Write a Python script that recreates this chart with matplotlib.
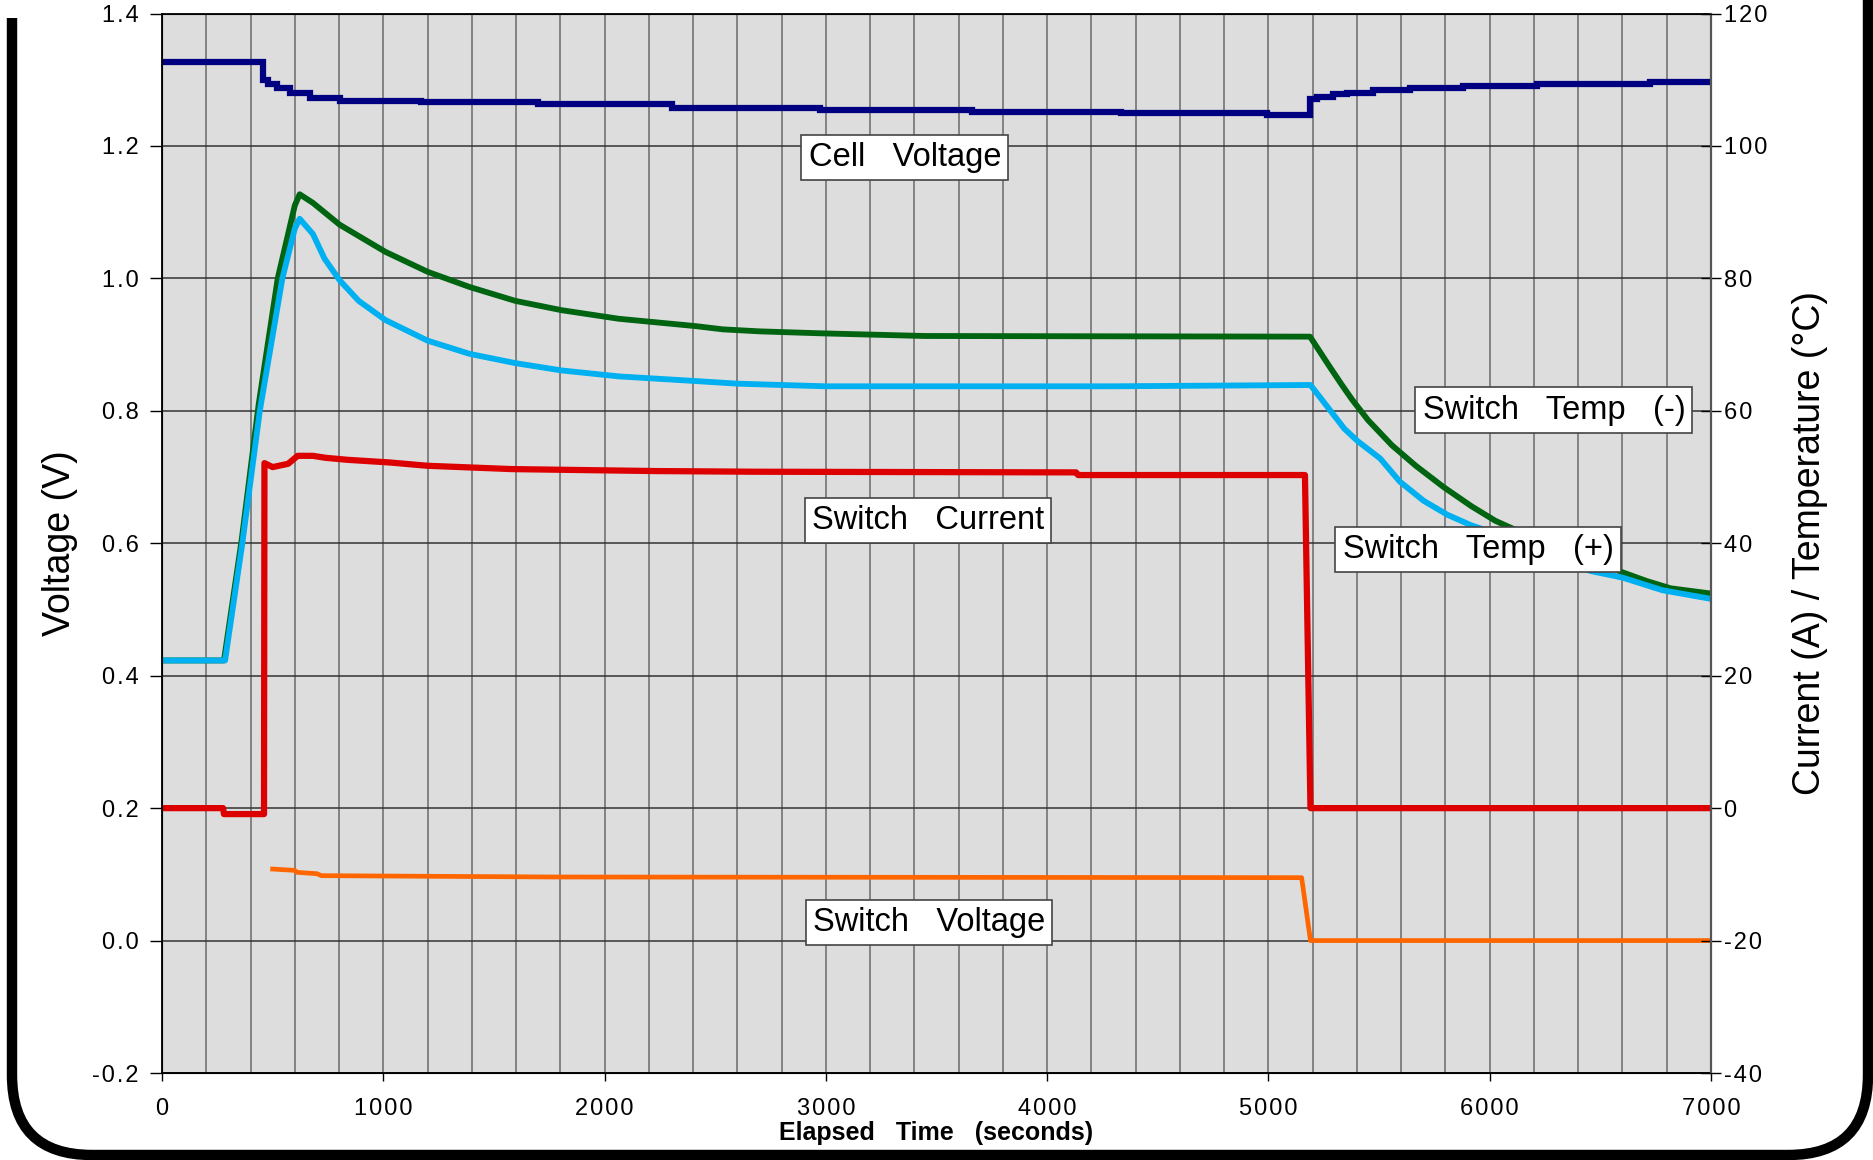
import matplotlib
matplotlib.use('Agg')
import matplotlib.pyplot as plt
from matplotlib.path import Path
from matplotlib.patches import PathPatch
from matplotlib.ticker import MultipleLocator, FuncFormatter
import numpy as np

plt.rcParams['font.family'] = ['Liberation Sans', 'DejaVu Sans']
plt.rcParams['axes.unicode_minus'] = False

# ---- data ----
# cell voltage (V, left axis), stepped
t_cell = [0, 456, 480, 519, 579, 669, 805, 1170, 1700, 2305, 2975, 3660, 4335, 4995,
          5190, 5218, 5294, 5354, 5474, 5640, 5881, 6212, 6724, 7000]
v_cell = [1.327, 1.300, 1.294, 1.287, 1.280, 1.273, 1.268, 1.266, 1.263, 1.258, 1.255, 1.252, 1.249, 1.246,
          1.271, 1.274, 1.278, 1.2805, 1.284, 1.287, 1.2905, 1.293, 1.297, 1.297]

# switch voltage (V, left axis)
t_sv = [500, 600, 610, 700, 720, 1771, 5150, 5190, 7000]
v_sv = [0.108, 0.106, 0.103, 0.101, 0.098, 0.096, 0.095, 0.0, 0.0]

# switch temp (+) (deg C, right axis)
t_tp = [0, 285, 363, 442, 544, 600, 622, 682, 734, 803, 889, 1010, 1200, 1390, 1597, 1805, 2064,
        2409, 2600, 3000, 4290, 5190, 5262, 5343, 5404, 5505, 5594, 5702, 5809, 5917, 5989, 6100,
        6250, 6457, 6601, 6781, 7000]
temp_p = [22.3, 22.3, 40.0, 60.0, 80.0, 87.5, 89.0, 86.7, 83.0, 79.7, 76.6, 73.7, 70.6, 68.6, 67.2, 66.1, 65.2,
          64.5, 64.1, 63.7, 63.7, 63.9, 60.8, 57.3, 55.4, 52.8, 49.3, 46.4, 44.3, 42.7, 41.9, 40.0,
          38.0, 35.8, 34.8, 32.9, 31.6]

# switch temp (-) (deg C, right axis)
t_tn = [0, 280, 360, 437, 523, 600, 622, 682, 803, 1010, 1200, 1390, 1597, 1805, 2064, 2409, 2535,
        2700, 2980, 3445, 5188, 5270, 5330, 5378, 5450, 5558, 5666, 5791, 5917, 6025, 6151, 6350, 6601,
        6709, 6817, 7000]
temp_n = [22.3, 22.3, 40.5, 61.0, 80.0, 91.0, 92.7, 91.4, 88.1, 84.0, 81.0, 78.7, 76.6, 75.2, 73.9, 72.8, 72.3,
          72.0, 71.7, 71.3, 71.2, 67.0, 64.0, 61.7, 58.6, 54.8, 51.7, 48.5, 45.6, 43.4, 41.5, 38.8, 35.6,
          34.3, 33.2, 32.4]

# switch current (A, right axis)
t_cur = [0, 276, 280, 461, 463, 500, 570, 613, 682, 740, 838, 1028, 1200, 1580, 2236, 2685,
         4131, 4140, 5165, 5190, 7000]
i_cur = [0, 0, -0.9, -0.9, 52.1, 51.5, 52.0, 53.2, 53.2, 52.9, 52.6, 52.2, 51.7, 51.2, 50.9, 50.8,
         50.7, 50.3, 50.3, 0, 0]

labels = ['Cell   Voltage', 'Switch   Current', 'Switch   Voltage', 'Switch   Temp   (-)', 'Switch   Temp   (+)']
label_t = [3357, 3461, 3466, 6290, 5947]
label_r = [98.3, 43.4, -17.3, 60.1, 39.1]

W, H = 1873, 1160
fig = plt.figure(figsize=(W / 100, H / 100), dpi=100)

# rounded frame around everything
fa = fig.add_axes([0, 0, 1, 1], zorder=-5)
fa.set_xlim(0, W)
fa.set_ylim(H, 0)
fa.axis('off')
r = 80
verts = [(12, 18), (12, 1155 - r), (12, 1155), (12 + r, 1155), (1868 - r, 1155),
         (1868, 1155), (1868, 1155 - r), (1868, -10)]
codes = [Path.MOVETO, Path.LINETO, Path.CURVE3, Path.CURVE3, Path.LINETO,
         Path.CURVE3, Path.CURVE3, Path.LINETO]
fa.add_patch(PathPatch(Path(verts, codes), fill=False, lw=7.5, ec='black', capstyle='butt'))

sp = '\u200a'   # hair space, the tick labels are letter-spaced
ax = fig.add_axes([162 / W, 1 - 1073 / H, (1711 - 162) / W, (1073 - 13.5) / H])
ax.set_facecolor('#DDDDDD')
ax.set_xlim(0, 7000)
ax.set_ylim(-0.2, 1.4)
ax.xaxis.set_major_locator(MultipleLocator(1000))
ax.xaxis.set_minor_locator(MultipleLocator(200))
ax.yaxis.set_major_locator(MultipleLocator(0.2))
ax.xaxis.set_major_formatter(FuncFormatter(lambda v, p: sp.join('%d' % round(v))))
ax.yaxis.set_major_formatter(FuncFormatter(lambda v, p: sp.join('%.1f' % v)))
ax.grid(which='both', axis='x', color='#6a6a6a', lw=1.1)
ax.grid(which='major', axis='y', color='#333333', lw=1.1)
ax.set_axisbelow(True)
ax.tick_params(axis='x', which='major', length=6, width=1, labelsize=17, pad=12)
ax.tick_params(axis='x', which='minor', length=0)
ax.tick_params(axis='y', length=9, width=1, labelsize=17, pad=8)
for s in ax.spines.values():
    s.set_linewidth(1.3)

ax.plot(t_cell, v_cell, color='#000080', lw=4.5, drawstyle='steps-post', solid_joinstyle='miter')
ax.plot(t_sv, v_sv, color='#FF6600', lw=3.4)

ax2 = ax.twinx()
ax2.set_ylim(-40, 120)
ax2.yaxis.set_major_locator(MultipleLocator(20))
ax2.yaxis.set_major_formatter(FuncFormatter(lambda v, p: sp.join('%d' % round(v))))
ax2.tick_params(axis='y', direction='inout', length=14, width=1, labelsize=17, pad=2)
ax2.spines['right'].set_color('#555555')
ax2.spines['right'].set_linewidth(1.6)

ax2.plot(t_tn, temp_n, color='#006411', lw=4.2)
ax2.plot(t_tp, temp_p, color='#00B0F0', lw=4.2)
ax2.plot(t_cur, i_cur, color='#DD0000', lw=4.5)

for txt, tx, ty in zip(labels, label_t, label_r):
    ax2.text(tx, ty, txt, fontsize=23.5, ha='center', va='center', zorder=10,
             bbox=dict(boxstyle='square,pad=0.22', fc='white', ec='#444444', lw=1.2))

ax.set_ylabel('Voltage (V)', fontsize=27, labelpad=10)
ax2.set_ylabel('Current (A) / Temperature (°C)', fontsize=27, labelpad=18)
ax.set_xlabel('Elapsed   Time   (seconds)', fontsize=18, fontweight='bold', labelpad=1)

fig.savefig('out.png', dpi=100)
